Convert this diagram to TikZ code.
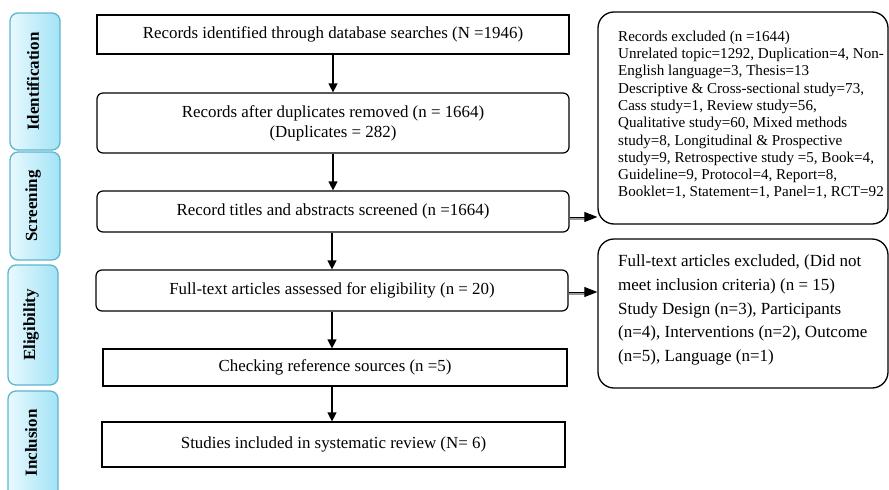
\documentclass[tikz,border=0pt]{standalone}
\usepackage{fontspec}
\setmainfont{Liberation Serif}
\usetikzlibrary{arrows.meta,shadings}
\definecolor{tabL}{HTML}{E8F9FE}
\definecolor{tabR}{HTML}{A2E3F6}
\definecolor{tabB}{HTML}{5DB5CE}
\begin{document}
\begin{tikzpicture}[x=1pt,y=-1pt,
  mainbox/.style={draw=black, line width=1.2pt, inner sep=0pt, align=center,
    font=\fontsize{16.9}{20}\selectfont},
  roundbox/.style={mainbox, rounded corners=6pt},
  sidebox/.style={draw=black, line width=1.3pt, rounded corners=16pt, inner sep=0pt},
  tabshape/.style={draw=tabB, line width=1.3pt, rounded corners=8pt, left color=tabL, right color=tabR},
  tabtext/.style={rotate=90, font=\bfseries\fontsize{17}{20}\selectfont, inner sep=0pt},
  varrow/.style={draw=black, line width=1.2pt, -{Triangle[length=9pt,width=9pt]}},
  sidegray/.style={draw=black!40, line width=1.8pt},
  sidearrow/.style={draw=black, line width=1pt, -{Triangle[length=13pt,width=10pt]}}
]
\useasboundingbox (0,0) rectangle (889,490);
\clip (0,0) rectangle (889,490);

% stage tabs
\path[tabshape] (10,13) rectangle (60,150);
\node[tabtext] (tid) at (33,81.5) {Identification};
\path[tabshape] (10,152) rectangle (60,260);
\node[tabtext] (tsc) at (33,206) {Screening};
\path[tabshape] (8,265) rectangle (58,385);
\node[tabtext] (tel) at (31,325) {Eligibility};
\path[tabshape] (8,391) rectangle (58,498);
\node[tabtext] (tin) at (31,443) {Inclusion};

% main column
\node[mainbox, minimum width=472pt, minimum height=39pt] (b1) at (333,34.5)
  {Records identified through database searches (N =1946)};
\node[roundbox, minimum width=472pt, minimum height=60pt] (b2) at (333,123)
  {Records after duplicates removed (n = 1664)\\(Duplicates = 282)};
\node[roundbox, minimum width=472pt, minimum height=41pt] (b3) at (333,211.5)
  {Record titles and abstracts screened (n =1664)};
\node[roundbox, minimum width=472pt, minimum height=41pt] (b4) at (332,290.5)
  {Full-text articles assessed for eligibility (n = 20)};
\node[mainbox, minimum width=464pt, minimum height=37pt] (b5) at (335,367.5)
  {Checking reference sources (n =5)};
\node[mainbox, minimum width=463pt, minimum height=45pt] (b6) at (333.5,444.5)
  {Studies included in systematic review (N= 6)};

% side boxes
\node[sidebox, minimum width=290pt, minimum height=212pt] (r1) at (743,118) {};
\node[anchor=west, inner sep=0pt, align=left, font=\fontsize{15.1}{17.3}\selectfont] (r1t) at (618,115)
  {Records excluded (n =1644)\\
   Unrelated topic=1292, Duplication=4, Non-\\
   English language=3, Thesis=13\\
   Descriptive \& Cross-sectional study=73,\\
   Cass study=1, Review study=56,\\
   Qualitative study=60, Mixed methods\\
   study=8, Longitudinal \& Prospective\\
   study=9, Retrospective study =5, Book=4,\\
   Guideline=9, Protocol=4, Report=8,\\
   Booklet=1, Statement=1, Panel=1, RCT=92};
\node[sidebox, minimum width=290pt, minimum height=149pt] (r2) at (743,313.5) {};
\node[anchor=west, inner sep=0pt, align=left, font=\fontsize{17}{23.8}\selectfont] (r2t) at (618,310)
  {Full-text articles excluded, (Did not\\
   meet inclusion criteria) (n = 15)\\
   Study Design (n=3), Participants\\
   (n=4), Interventions (n=2), Outcome\\
   (n=5), Language (n=1)};

% vertical arrows
\draw[varrow] (b1.south) -- (b1.south |- b2.north);
\draw[varrow] (b2.south) -- (b2.south |- b3.north);
\draw[varrow] (b3.south -| b4.south) -- (b4.north);
\draw[varrow] (b4.south) -- (b4.south |- b5.north);
\draw[varrow] (b5.south -| b4.south) -- (b4.south |- b6.north);

% side arrows
\coordinate (a1) at ([yshift=-5.5pt]b3.east);
\coordinate (a1e) at (a1 -| r1.west);
\coordinate (a1g) at ([yshift=-2pt]a1);
\coordinate (a1h) at ([xshift=-8pt,yshift=-2pt]a1e);
\draw[sidegray] (a1g) -- (a1h);
\draw[sidearrow] (a1) -- (a1e);
\coordinate (a2) at ([yshift=-1.5pt]b4.east);
\coordinate (a2e) at (a2 -| r2.west);
\coordinate (a2g) at ([yshift=-2pt]a2);
\coordinate (a2h) at ([xshift=-8pt,yshift=-2pt]a2e);
\draw[sidegray] (a2g) -- (a2h);
\draw[sidearrow] (a2) -- (a2e);
\end{tikzpicture}
\end{document}
